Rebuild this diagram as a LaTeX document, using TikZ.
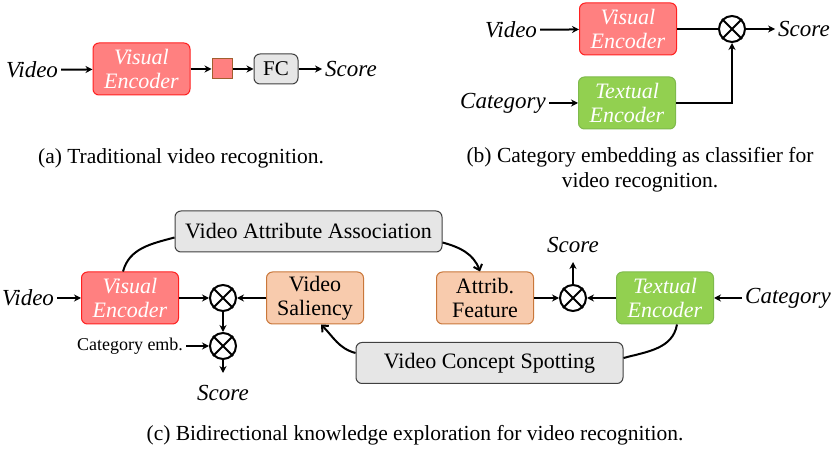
\documentclass[tikz,border=0pt]{standalone}
\usepackage{fontspec}
\setmainfont{Liberation Serif}
\usetikzlibrary{arrows.meta}
\definecolor{visred}{HTML}{FF8080}
\definecolor{visredline}{HTML}{FF2020}
\definecolor{txtgreen}{HTML}{92D050}
\definecolor{txtgreenline}{HTML}{7FBA4C}
\definecolor{attrorange}{HTML}{F8CBAD}
\definecolor{attrorangeline}{HTML}{C9773A}
\definecolor{boxgray}{HTML}{E6E6E6}
\tikzset{
  box/.style={draw,rounded corners=6pt,align=center,minimum width=97pt,minimum height=52pt,inner sep=1pt,
    font=\fontsize{22}{24}\selectfont,line width=1pt},
  visenc/.style={box,fill=visred,draw=visredline,text=white,font=\fontsize{22}{24}\selectfont\itshape},
  txtenc/.style={box,fill=txtgreen,draw=txtgreenline,text=white,font=\fontsize{22}{24}\selectfont\itshape},
  attrbox/.style={box,fill=attrorange,draw=attrorangeline},
  graybox/.style={box,fill=boxgray,draw=black!75,minimum height=41pt},
  lab/.style={font=\fontsize{23}{26}\selectfont\itshape,inner sep=3pt},
  captxt/.style={font=\fontsize{21.5}{25}\selectfont,align=center},
  otimes/.style={circle,draw,line width=2pt,minimum size=26pt,inner sep=0pt},
  arr/.style={-{Stealth[length=7pt,width=7pt]},line width=2pt},
  curv/.style={-{Straight Barb[length=5pt,width=9pt]},line width=2pt},
}
\begin{document}
\begin{tikzpicture}[x=1pt,y=-1pt]
\useasboundingbox (0,0) rectangle (831,449);
% (a)
\node[lab] (va) at (32,70) {Video};
\node[visenc] (vea) at (141.5,69) {Visual\\Encoder};
\node[draw=attrorangeline!80!black,fill=visred,minimum size=20pt,inner sep=0pt,line width=1pt] (fa) at (222,69) {};
\node[graybox,minimum width=44pt,minimum height=30pt,font=\fontsize{21}{22}\selectfont] (fc) at (276,69) {FC};
\node[lab] (sa) at (351,69) {Score};
\draw[arr] (va) -- (vea);
\draw[arr] (vea) -- (fa);
\draw[arr] (fa) -- (fc);
\draw[arr] (fc) -- (sa);
\node[captxt] (capa) at (181,158) {(a) Traditional video recognition.};
% (b)
\node[lab] (vb) at (511,30) {Video};
\node[visenc] (veb) at (628,29) {Visual\\Encoder};
\node[lab] (cb) at (503,103) {Category};
\node[txtenc] (teb) at (627,103) {Textual\\Encoder};
\node[otimes] (ob) at (732,29) {};
\node[lab] (sb) at (804,29) {Score};
\draw[arr] (vb) -- (veb);
\draw[arr] (cb) -- (teb);
\draw[line width=2pt] (veb) -- (ob);
\draw[arr] (ob) -- (sb);
\draw[arr] (teb.east) -- (ob |- teb.east) -- (ob.south);
\node[captxt] (capb) at (640,170) {(b) Category embedding as classifier for\\video recognition.};
% (c)
\node[graybox,minimum width=267pt] (vaa) at (308.5,231.5) {Video Attribute Association};
\node[graybox,minimum width=267pt] (vcs) at (489.5,363) {Video Concept Spotting};
\node[lab] (vc) at (28,298) {Video};
\node[visenc] (vec) at (130,298) {Visual\\Encoder};
\node[otimes] (o1) at (223,298) {};
\node[otimes] (o2) at (223,346) {};
\node[attrbox] (sal) at (315,298) {Video\\Saliency};
\node[attrbox] (af) at (485,298) {Attrib.\\Feature};
\node[otimes] (o3) at (573,298) {};
\node[txtenc] (tec) at (665,298) {Textual\\Encoder};
\node[lab] (cc) at (788,298) {Category};
\node[font=\fontsize{18}{20}\selectfont,inner sep=3pt] (ce) at (130,346) {Category emb.};
\node[lab] (sc1) at (223,393) {Score};
\node[lab] (sc2) at (573,245) {Score};
\coordinate (s1) at (223,373);
\coordinate (s2) at (573,262);
\draw[arr] (vc) -- (vec);
\draw[arr] (vec) -- (o1);
\draw[arr] (sal) -- (o1);
\draw[arr] (o1) -- (o2);
\draw[arr] (ce) -- (o2);
\draw[arr] (o2) -- (s1);
\draw[arr] (af) -- (o3);
\draw[arr] (tec) -- (o3);
\draw[arr] (o3) -- (s2);
\draw[arr] (cc) -- (tec);
\draw[line width=2pt] ([xshift=-7pt]vec.north) to[out=75,in=195] ([yshift=-6pt]vaa.west);
\draw[curv] ([yshift=-11pt]vaa.east) to[out=-15,in=110] ([xshift=-5pt]af.north);
\draw[line width=2pt] ([xshift=12pt]tec.south) to[out=-100,in=15] ([yshift=5pt]vcs.east);
\draw[curv] ([yshift=10pt]vcs.west) to[out=165,in=-45] ([xshift=6pt]sal.south);
\foreach \o in {ob,o1,o2,o3} {
  \draw[line width=2pt] (\o.north east) -- (\o.south west) (\o.north west) -- (\o.south east);
}
\node[captxt] (capc) at (415,435) {(c) Bidirectional knowledge exploration for video recognition.};
\end{tikzpicture}
\end{document}
